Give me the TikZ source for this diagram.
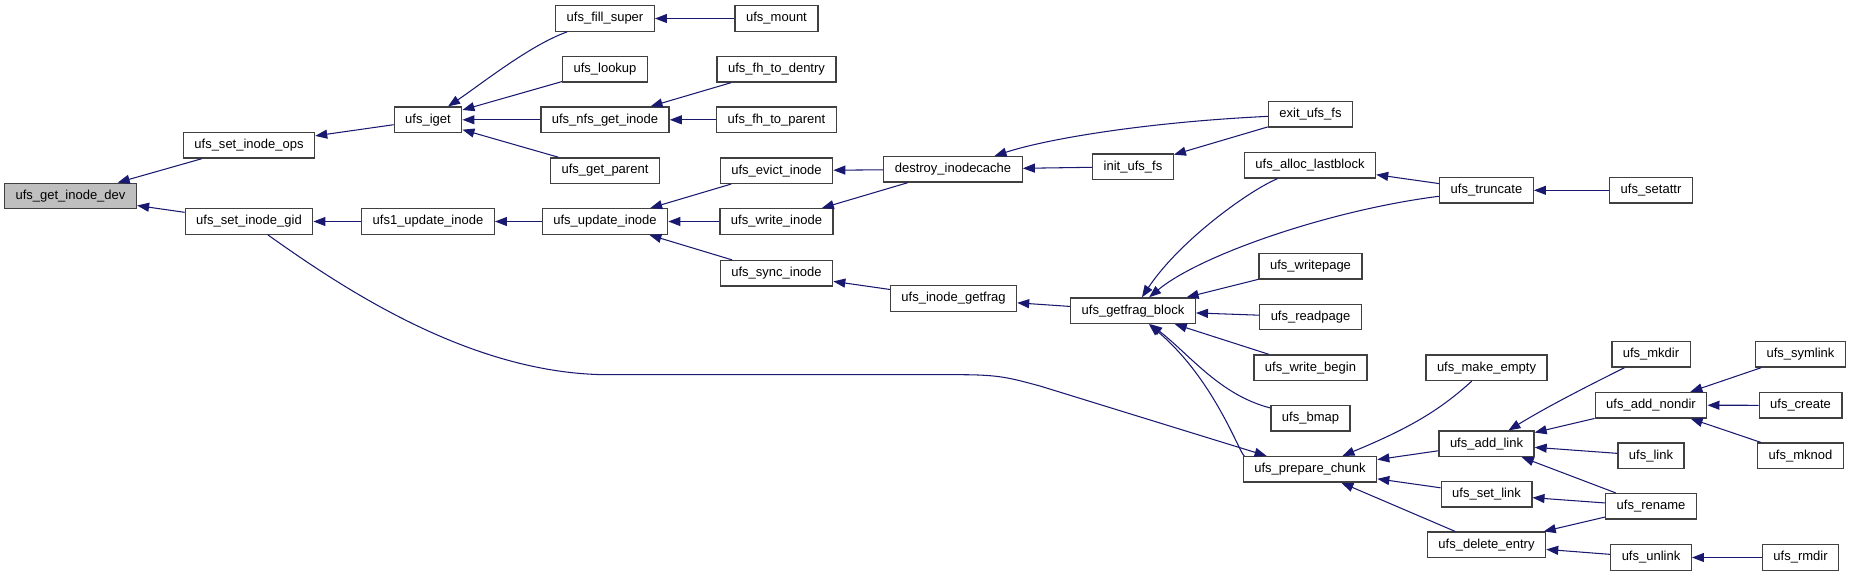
\documentclass[tikz,border=0pt]{standalone}
\usepackage{fontspec}
\setmainfont{Liberation Sans}
\usetikzlibrary{arrows.meta}
\definecolor{edgeblue}{HTML}{191970}
\definecolor{boxline}{HTML}{404040}
\definecolor{rootgray}{HTML}{BFBFBF}

\begin{document}
\begin{tikzpicture}[x=0.02cm,y=-0.02cm,
  fn/.style={draw=boxline,line width=0.75pt,fill=white,inner xsep=0.22cm,inner ysep=0pt,
    minimum height=0.51cm,font=\fontsize{7.4}{8}\selectfont},
  call/.style={edgeblue,line width=0.6pt,-{Triangle[length=0.24cm,width=0.18cm]}}]
  \useasboundingbox (0,0) rectangle (1852,576);
  \node[fn,fill=rootgray] (getdev) at (70.5,196) {ufs\_get\_inode\_dev};
  \foreach \n/\x/\y/\t in {
      setops/249/145.3/ufs\_set\_inode\_ops, setgid/249/221.5/ufs\_set\_inode\_gid,
      iget/428/119.8/ufs\_iget, upd1/428/221.5/ufs1\_update\_inode,
      fillsuper/605/18.5/ufs\_fill\_super, lookup/605/69.3/ufs\_lookup,
      nfsget/605/119.8/ufs\_nfs\_get\_inode, getparent/605/170.6/ufs\_get\_parent,
      updinode/605/221.5/ufs\_update\_inode,
      mount/776.5/18.5/ufs\_mount, fhdentry/776.5/69.3/ufs\_fh\_to\_dentry,
      fhparent/776.5/119.8/ufs\_fh\_to\_parent, evict/776.5/170.6/ufs\_evict\_inode,
      writeinode/776.5/221.5/ufs\_write\_inode, syncinode/776.5/273.3/ufs\_sync\_inode,
      destroy/953/169.3/destroy\_inodecache, inodegetfrag/953.5/298.5/ufs\_inode\_getfrag,
      initfs/1133/166.7/init\_ufs\_fs, getfragblk/1133/310.7/ufs\_getfrag\_block,
      exitfs/1310.5/114.3/exit\_ufs\_fs, alloclast/1310/165.3/ufs\_alloc\_lastblock,
      writepage/1310.5/266.3/ufs\_writepage, readpage/1310.5/317/ufs\_readpage,
      writebegin/1310.5/367.7/ufs\_write\_begin, bmap/1310.5/418.3/ufs\_bmap,
      prepare/1310/469.3/ufs\_prepare\_chunk,
      truncate/1486.5/190.3/ufs\_truncate, makeempty/1486.5/367.7/ufs\_make\_empty,
      addlink/1486.5/443.8/ufs\_add\_link, setlink/1486.5/494.3/ufs\_set\_link,
      delentry/1486.5/544.8/ufs\_delete\_entry,
      setattr/1651/190.3/ufs\_setattr, mkdir/1651/354.3/ufs\_mkdir,
      addnondir/1651/405.2/ufs\_add\_nondir, link/1651/455.8/ufs\_link,
      rename/1651/506.3/ufs\_rename, unlink/1651/557.5/ufs\_unlink,
      symlink/1800.5/354.3/ufs\_symlink, create/1800.5/405.3/ufs\_create,
      mknod/1800.5/455.8/ufs\_mknod, rmdir/1800.5/557.5/ufs\_rmdir} {
    \node[fn] (\n) at (\x,\y) {\t};
  }
  % straight calls, caller/callee
  \foreach \a/\b in {setops/getdev, setgid/getdev, iget/setops, upd1/setgid, updinode/upd1,
      lookup/iget, nfsget/iget, getparent/iget, mount/fillsuper, fhdentry/nfsget,
      fhparent/nfsget, evict/updinode, writeinode/updinode, syncinode/updinode,
      destroy/evict, destroy/writeinode, initfs/destroy, exitfs/initfs,
      inodegetfrag/syncinode, getfragblk/inodegetfrag, truncate/alloclast, setattr/truncate,
      writepage/getfragblk, readpage/getfragblk, writebegin/getfragblk,
      addlink/prepare, setlink/prepare, delentry/prepare, addnondir/addlink, link/addlink,
      rename/addlink, rename/setlink, rename/delentry, unlink/delentry,
      symlink/addnondir, create/addnondir, mknod/addnondir, rmdir/unlink} {
    \draw[call] (\a) -- (\b);
  }
  % curved calls
  \draw[call] (fillsuper) .. controls (530,45) and (480,85) .. (iget);
  \draw[call] (exitfs) .. controls (1150,122) and (1050,138) .. (destroy);
  \draw[call] (alloclast) .. controls (1250,190) and (1180,240) .. (getfragblk);
  \draw[call] (truncate) .. controls (1330,210) and (1200,255) .. (getfragblk);
  \draw[call] (bmap) .. controls (1220,395) and (1190,355) .. (getfragblk);
  \draw[call] (prepare) .. controls (1240,455) and (1215,380) .. (getfragblk);
  \draw[call] (makeempty) .. controls (1440,410) and (1410,428) .. (prepare);
  \draw[call] (mkdir) .. controls (1590,385) and (1550,405) .. (addlink);
  \draw[call] (setgid) .. controls (340,286) and (470,374.7) .. (609,374.7) -- (960,374.7)
    .. controls (1000,374.7) and (1010,378) .. (1040,386) -- (prepare);
\end{tikzpicture}
\end{document}
